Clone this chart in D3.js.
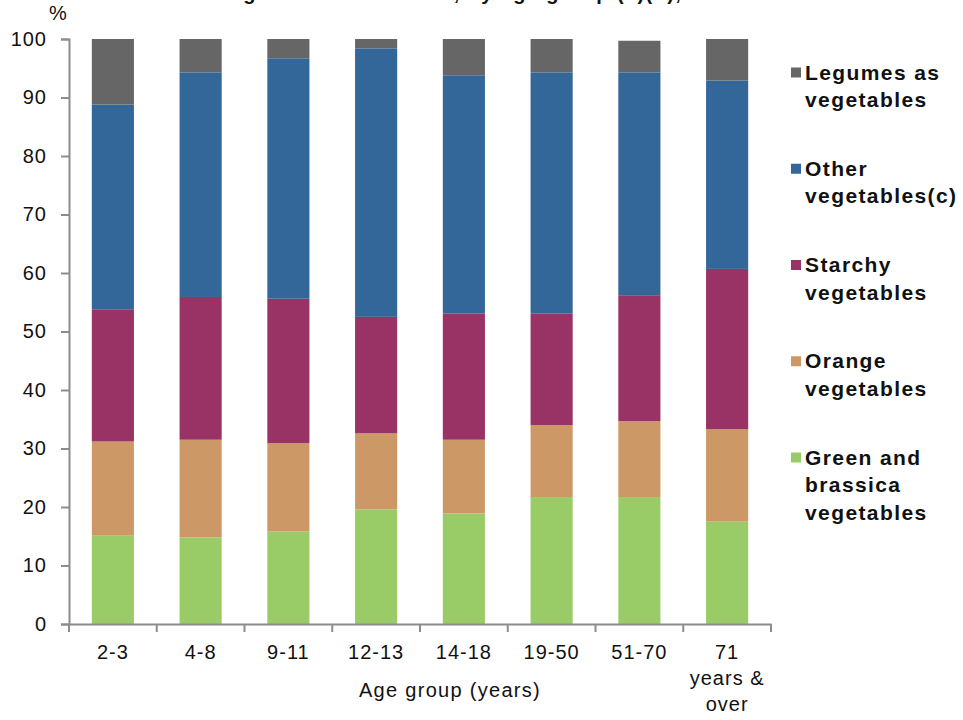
<!DOCTYPE html>
<html>
<head>
<meta charset="utf-8">
<script src="https://cdn.jsdelivr.net/npm/d3@7"></script>
<style>
  html, body { margin: 0; padding: 0; background: #fff; }
  svg { display: block; }
  text { font-family: "Liberation Sans", Arial, sans-serif; }
</style>
</head>
<body>
<svg id="chart" width="963" height="720"></svg>
<script>
// ---- data ----
const categories = ["2-3", "4-8", "9-11", "12-13", "14-18", "19-50", "51-70", "71\nyears &\nover"];
const seriesNames = ["Green and\nbrassica\nvegetables", "Orange\nvegetables", "Starchy\nvegetables", "Other\nvegetables(c)", "Legumes as\nvegetables"];
const green   = [15.1, 14.8, 15.8, 19.6, 18.9, 21.7, 21.7, 17.5];
const orange  = [16.1, 16.7, 15.1, 13.0, 12.6, 12.3, 13.0, 15.8];
const starchy = [22.6, 24.4, 24.7, 19.9, 21.6, 19.1, 21.5, 27.4];
const other   = [35.0, 38.4, 41.1, 45.9, 40.7, 41.2, 38.1, 32.2];
const legumes = [11.2,  5.7,  3.3,  1.6,  6.2,  5.7,  5.4,  7.1];
const yTicks = [0, 10, 20, 30, 40, 50, 60, 70, 80, 90, 100];
const titleText = "Vegetables consumed, by age group (a)(b), 2011-12";
const yUnit = "%";
const xTitle = "Age group (years)";

(function () {
const colors = ["#99CC66", "#CC9966", "#993366", "#336699", "#666666"];
const seriesValues = [green, orange, starchy, other, legumes];
const keys = ["green", "orange", "starchy", "other", "legumes"];
const table = categories.map((c, i) => {
  const row = { cat: c };
  keys.forEach((k, j) => row[k] = seriesValues[j][i]);
  return row;
});

const svg = d3.select("#chart");
const mLeft = 69, mRight = 771, mTop = 39, mBottom = 624;

const x = d3.scaleBand().domain(categories).range([mLeft, mRight]).paddingInner(0).paddingOuter(0);
const y = d3.scaleLinear().domain([0, 100]).range([mBottom, mTop]);
const barW = x.bandwidth() * 0.48;

const stacked = d3.stack().keys(keys)(table);

svg.append("g").selectAll("g")
  .data(stacked).join("g")
  .attr("fill", (d, i) => colors[i])
  .selectAll("rect")
  .data(d => d).join("rect")
  .attr("x", d => x(d.data.cat) + (x.bandwidth() - barW) / 2)
  .attr("width", barW)
  .attr("y", d => y(d[1]))
  .attr("height", d => y(d[0]) - y(d[1]));

const axisColor = "#8c8c8c";

// y axis
const yAxis = svg.append("g").attr("transform", `translate(${mLeft},0)`)
  .call(d3.axisLeft(y).tickValues(yTicks).tickSize(8).tickPadding(14).tickFormat(d3.format("d")));
yAxis.select(".domain").attr("stroke", axisColor).attr("stroke-width", 2);
yAxis.selectAll(".tick line").attr("stroke", axisColor).attr("stroke-width", 2);
yAxis.selectAll(".tick text")
  .attr("font-size", 20).attr("fill", "#111").attr("letter-spacing", "1px")
  .attr("font-family", "'Liberation Sans', Arial, sans-serif")
  .attr("dy", "0.3em");

// x axis
const xAxis = svg.append("g").attr("transform", `translate(0,${mBottom})`)
  .call(d3.axisBottom(x).tickSize(0).tickFormat(""));
xAxis.select(".domain").attr("stroke", axisColor).attr("stroke-width", 2);
xAxis.selectAll(".tick").remove();
const bounds = categories.map(c => x(c)).concat([mRight]);
xAxis.selectAll("line.bt").data(bounds).join("line")
  .attr("class", "bt")
  .attr("x1", d => d).attr("x2", d => d)
  .attr("y1", 0).attr("y2", 8)
  .attr("stroke", axisColor).attr("stroke-width", 2);

// x tick labels
const lab = svg.append("g");
categories.forEach(c => {
  const lines = c.split("\n");
  const cx = x(c) + x.bandwidth() / 2;
  const t = lab.append("text")
    .attr("x", cx).attr("y", 659)
    .attr("text-anchor", "middle")
    .attr("font-size", 20).attr("fill", "#111").attr("letter-spacing", "1px");
  lines.forEach((l, k) => {
    t.append("tspan").attr("x", cx).attr("dy", k === 0 ? 0 : 26).text(l);
  });
});

svg.append("text").attr("x", 450).attr("y", 697).attr("text-anchor", "middle")
  .attr("font-size", 20).attr("fill", "#111").attr("letter-spacing", "1.3px").text(xTitle);

svg.append("text").attr("x", 49).attr("y", 20)
  .attr("font-size", 20).attr("fill", "#111").text(yUnit);

// title (cut off at top in the original)
svg.append("text").attr("x", 217).attr("y", 0)
  .attr("font-size", 20).attr("font-weight", "bold").attr("fill", "#111").attr("letter-spacing", "1.4px")
  .text(titleText);

// legend (top to bottom: legumes first)
const legendOrder = [4, 3, 2, 1, 0];
const leg = svg.append("g");
legendOrder.forEach((si, k) => {
  const baseY = 79.5 + k * 96.25;
  leg.append("rect").attr("x", 791).attr("y", baseY - 12).attr("width", 10).attr("height", 10)
    .attr("fill", colors[si]);
  const t = leg.append("text").attr("x", 805).attr("y", baseY)
    .attr("font-size", 21).attr("font-weight", "bold").attr("fill", "#111").attr("letter-spacing", "1.4px");
  seriesNames[si].split("\n").forEach((l, j) => {
    t.append("tspan").attr("x", 805).attr("dy", j === 0 ? 0 : 27.5).text(l);
  });
});
})();
</script>
</body>
</html>
